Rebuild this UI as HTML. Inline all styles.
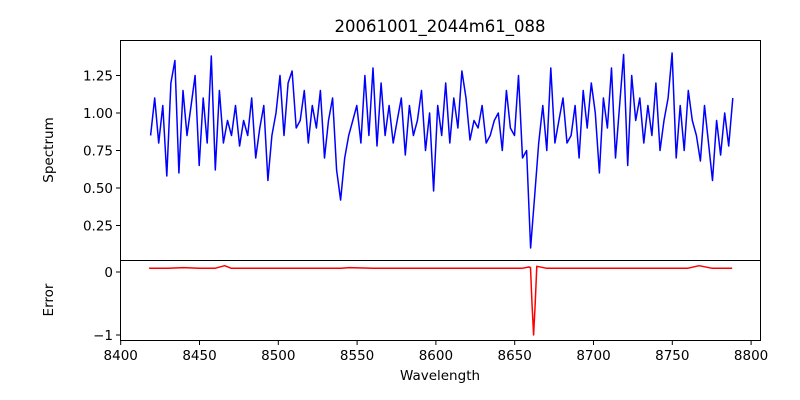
<!DOCTYPE html>
<html><head><meta charset="utf-8"><style>
html,body{margin:0;padding:0;background:#fff;}
svg{display:block;font-family:"DejaVu Sans","Liberation Sans",sans-serif;}
</style></head><body>
<svg id="chart" width="800" height="400" viewBox="0 0 800 400" xmlns="http://www.w3.org/2000/svg">
<rect width="800" height="400" fill="#fff"/>
<text x="440" y="32" font-size="16.5" text-anchor="middle">20061001_2044m61_088</text>
<g id="topPanel"></g>
<g id="botPanel"></g>
<text transform="translate(53,150) rotate(-90)" font-size="13.5" text-anchor="middle">Spectrum</text>
<text transform="translate(53,300) rotate(-90)" font-size="13.5" text-anchor="middle">Error</text>
<text x="440" y="380" font-size="13.5" text-anchor="middle">Wavelength</text>
</svg>
<script>
const specStart = 8419;
const specStep = 2.565;
const specValues = [
0.85,1.10,0.80,1.05,0.58,1.20,1.35,0.60,1.15,0.85,
1.05,1.25,0.65,1.10,0.80,1.38,0.62,1.15,0.80,0.95,
0.85,1.05,0.78,0.95,0.85,1.10,0.70,0.90,1.05,0.55,
0.85,1.00,1.25,0.85,1.20,1.28,0.90,0.95,1.15,0.80,
1.05,0.90,1.15,0.70,0.95,1.10,0.62,0.42,0.70,0.85,
0.95,1.05,0.80,1.25,0.85,1.30,0.78,1.20,0.85,1.05,
0.80,0.95,1.10,0.72,1.05,0.85,0.95,1.15,0.75,1.00,
0.48,1.05,0.85,1.20,0.80,1.10,0.90,1.28,1.10,0.82,
0.95,0.90,1.05,0.80,0.85,0.95,1.00,0.75,1.15,0.90,
0.85,1.25,0.70,0.75,0.10,0.45,0.80,1.05,0.75,1.30,
0.80,0.95,1.10,0.80,0.85,1.05,0.70,1.15,0.90,1.20,
1.00,0.60,1.10,0.90,1.30,0.70,1.05,1.39,0.65,1.25,
0.95,1.10,0.80,1.05,0.85,1.20,0.75,0.95,1.10,1.40,
0.70,1.05,0.75,1.15,0.95,0.85,0.68,1.05,0.80,0.55,
0.95,0.72,1.00,0.78,1.10];
const errWaves = [8418,8430,8440,8450,8460,8466,8470,8480,8500,8520,8540,8545,8560,8580,8600,8620,8640,8655,8659,8660,8661,8662,8663,8664,8670,8690,8710,8730,8750,8760,8767,8775,8788];
const errValues = [0.06,0.06,0.07,0.06,0.06,0.10,0.06,0.06,0.06,0.06,0.06,0.07,0.06,0.06,0.06,0.06,0.06,0.06,0.08,0.07,-0.5,-1.0,-0.5,0.09,0.06,0.06,0.06,0.06,0.06,0.06,0.10,0.06,0.06];
const xTicks = [8400,8450,8500,8550,8600,8650,8700,8750,8800];
const yTopTicks = [0.25,0.50,0.75,1.00,1.25];
const yTopLabels = ["0.25","0.50","0.75","1.00","1.25"];
const yBotTicks = [0,-1];
const yBotLabels = ["0","\u22121"];

const NS="http://www.w3.org/2000/svg";
const X=w=>120.7+(w-8400)*1.576;
const YT=v=>263-v*150;
const YB=v=>272-v*63;
function mk(tag,attrs,parent){const e=document.createElementNS(NS,tag);for(const k in attrs)e.setAttribute(k,attrs[k]);parent.appendChild(e);return e;}
const topG=document.getElementById('topPanel'), botG=document.getElementById('botPanel');

let d=specValues.map((v,i)=>(i?'L':'M')+X(specStart+i*specStep).toFixed(1)+','+YT(v).toFixed(1)).join('');
const sl=mk('path',{d:d,fill:'none',stroke:'#0000ff','stroke-width':1.5,'stroke-linejoin':'round'},topG);


d=errValues.map((v,i)=>(i?'L':'M')+X(errWaves[i]).toFixed(1)+','+YB(v).toFixed(1)).join('');
const el=mk('path',{d:d,fill:'none',stroke:'#ff0000','stroke-width':1.5,'stroke-linejoin':'round'},botG);



const f1=mk('rect',{x:120.5,y:40.5,width:640,height:220,fill:'none',stroke:'#000','stroke-width':1},topG);


const f2=mk('rect',{x:120.5,y:260.5,width:640,height:80,fill:'none',stroke:'#000','stroke-width':1},botG);



yTopTicks.forEach((v,i)=>{
  const y=YT(v);
  mk('line',{x1:116,x2:120,y1:y,y2:y,stroke:'#000'},topG);
  const t=mk('text',{x:113,y:y+5,'font-size':13.5,'text-anchor':'end'},topG);
  t.textContent=yTopLabels[i];
  
  
});
yBotTicks.forEach((v,i)=>{
  const y=YB(v);
  mk('line',{x1:116,x2:120,y1:y,y2:y,stroke:'#000'},botG);
  const t=mk('text',{x:113,y:y+5,'font-size':13.5,'text-anchor':'end'},botG);
  t.textContent=yBotLabels[i];
  
  
});
xTicks.forEach(v=>{
  const x=X(v);
  mk('line',{x1:x,x2:x,y1:341,y2:345,stroke:'#000'},botG);
  const t=mk('text',{x:x,y:360,'font-size':13.5,'text-anchor':'middle'},botG);
  t.textContent=String(v);
  
  
});
</script>
</body></html>
